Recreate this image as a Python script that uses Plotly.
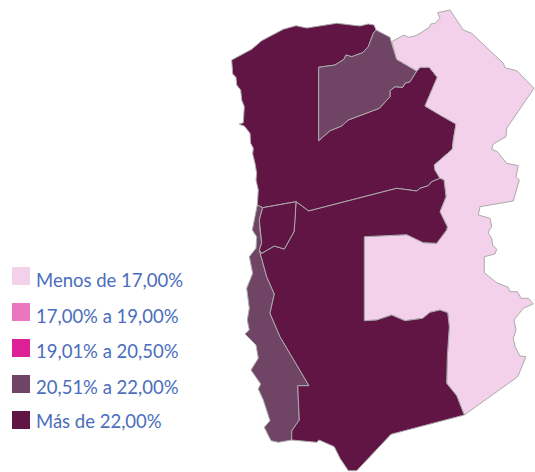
import plotly.graph_objects as go

# Map outlines (x, y in the map's own plane)
north_main = [(231.7,60),(232.7,74),(236,77.3),(236.7,85),(240.7,90),(241.7,100),(244.3,106.7),(243.3,122.7),(239,124.3),(244.3,126),(250,133.3),(250.7,143.3),(253.3,148.3),(252.7,154),(255,163.3),(256.7,173.3),(256,180),(258.3,190),(257.3,205),(262.7,207.7),(296,201.7),(308.7,211),(396.7,188.3),(416.7,191),(420,188.3),(428.3,185.7),(431.7,181.7),(440,178.3),(435,170),(434.3,165),(452.3,149.3),(453.3,140),(456,124),(440,115),(425,106),(437.3,77.3),(429.3,67.3),(420,67.3),(416.7,71),(410,81.7),(405,83.3),(402.7,87.3),(395,86.7),(390,90.7),(390,96.7),(379.3,108.3),(348.3,120),(341.7,126),(330,130.7),(318.7,140.7),(318.7,67.3),(335,65),(344,59.3),(346,55),(351.7,56.7),(362.7,52.7),(368.3,46.7),(373.3,33.3),(376,30),(374,25),(368.3,24),(360,26),(336.7,23.3),(306.7,28),(296,25.7),(283.3,29.3),(261.7,40.7),(251.7,49.3)]
north_inner = [(318.7,67.3),(335,65),(344,59.3),(346,55),(351.7,56.7),(362.7,52.7),(368.3,46.7),(373.3,33.3),(376,30),(390,37.3),(391.7,43.3),(396.7,59.3),(416.7,71),(410,81.7),(405,83.3),(402.7,87.3),(395,86.7),(390,90.7),(390,96.7),(379.3,108.3),(348.3,120),(341.7,126),(330,130.7),(318.7,140.7)]
east_band = [(391.7,41.7),(404,35),(408.3,37.3),(415,36),(420,33.3),(429.3,27.3),(430.7,24),(435,23.3),(440,18.3),(437.7,12.7),(450,10),(463.3,30),(471.7,33.3),(503.3,63.3),(505,67.7),(516.7,70.7),(534,88.3),(521.7,106.7),(506.7,128.3),(506,136.7),(493.3,144),(491.7,149.3),(497.3,151.7),(506.7,163.3),(518.3,165.7),(516,176.7),(519.3,180),(513.3,201),(480,206.7),(478.3,215),(490,218.3),(491.7,226.7),(489.3,230),(488.3,233.3),(491.7,238.3),(492.7,245),(496.7,249.3),(495,254),(484.3,256.7),(484.3,272.7),(496.7,282.7),(508.3,287.3),(510,291.7),(517.3,291.7),(521,298.3),(528.3,298.3),(533.3,304),(523.3,308.3),(516.7,316.7),(514,320),(516,330),(513.3,338.3),(515,346.7),(520,356),(526,356.7),(517.7,376.7),(464.3,415),(460,403.3),(456.7,395.7),(446.7,383.3),(447.3,356.7),(449.3,326.7),(447.7,312.7),(440,310),(430,312.3),(422.7,318.3),(405,320.7),(391.7,315),(376.7,320),(364.3,320.7),(364.3,236.7),(406.7,234.7),(423.3,242.7),(436.7,243.3),(446.7,230),(447.3,226.7),(440,211.7),(446,196.7),(444,180),(440,178.3),(435,170),(434.3,165),(452.3,149.3),(453.3,140),(456,124),(440,115),(425,106),(437.3,77.3),(429.3,67.3),(420,67.3),(416.7,71),(396.7,59.3)]
south_main = [(296,201.7),(308.7,211),(396.7,188.3),(416.7,191),(420,188.3),(428.3,185.7),(431.7,181.7),(440,178.3),(444,180),(446,196.7),(440,211.7),(447.3,226.7),(446.7,230),(436.7,243.3),(423.3,242.7),(406.7,234.7),(364.3,236.7),(364.3,320.7),(376.7,320),(391.7,315),(405,320.7),(422.7,318.3),(430,312.3),(440,310),(447.7,312.7),(449.3,326.7),(447.3,356.7),(446.7,383.3),(456.7,395.7),(460,403.3),(464.3,415),(391,434.3),(356.7,470.7),(348.3,470.7),(340,458.3),(334.3,446.7),(319,440),(316.7,442.3),(291.7,440),(291.7,431),(299.3,420),(297.7,385.7),(309,385.7),(280,336.7),(270,313.3),(274.3,294),(266.7,276.7),(259.3,250),(261.7,253.3),(274.3,246),(284.3,249),(294,231.7),(295,220)]
west_pocket = [(262.7,207.7),(296,201.7),(295,220),(294,231.7),(284.3,249),(274.3,246),(261.7,253.3),(259.3,250),(261.7,243.3),(260,230),(259.3,220)]
coast_strip = [(257.3,205),(262.7,207.7),(259.3,220),(260,230),(261.7,243.3),(259.3,250),(266.7,276.7),(274.3,294),(270,313.3),(280,336.7),(309,385.7),(297.7,385.7),(299.3,420),(291.7,431),(291.7,440),(278.3,442.3),(271,440.7),(264.3,427.3),(270,420.7),(266.7,410),(263.3,400),(258.3,389),(260.7,384),(251,370),(258.3,358.3),(256,345),(245,334),(249.3,330),(247.3,320),(249.3,308.3),(246.7,288.3),(252.7,273.3),(249.3,256.7),(256,248.3),(256.7,236.7),(252.3,230),(254.3,220)]

legend_labels = ["Menos de 17,00%", "17,00% a 19,00%", "19,01% a 20,50%", "20,51% a 22,00%", "Más de 22,00%"]
legend_colors = ["#f3d1ea", "#e976bf", "#de2098", "#6f4465", "#611545"]
legend_x = [21, 21, 21, 21, 21]
legend_y = [276, 312, 348, 384, 420]
label_y = [282, 318, 353, 389, 423]

regions = [
    ("north_main", north_main, 4),
    ("north_inner", north_inner, 3),
    ("east_band", east_band, 0),
    ("coast_strip", coast_strip, 3),
    ("south_main", south_main, 4),
    ("west_pocket", west_pocket, 4),
]

fig = go.Figure()
for name, pts, cls in regions:
    xs = [p[0] for p in pts] + [pts[0][0]]
    ys = [p[1] for p in pts] + [pts[0][1]]
    fig.add_trace(go.Scatter(x=xs, y=ys, mode="lines", fill="toself", name=name,
                             fillcolor=legend_colors[cls],
                             line=dict(color="#ababab", width=1),
                             hoverinfo="skip", showlegend=False))

fig.add_trace(go.Scatter(x=legend_x, y=legend_y, mode="markers",
                         marker=dict(symbol="square", size=18, color=legend_colors, line=dict(width=0)),
                         hoverinfo="skip", showlegend=False))
fig.add_trace(go.Scatter(x=[36] * 5, y=label_y, mode="text", text=legend_labels,
                         textposition="middle right",
                         textfont=dict(family="Lato", size=18.5, color="#4a6dbd"),
                         hoverinfo="skip", showlegend=False))

fig.update_layout(
    width=535, height=472, margin=dict(l=0, r=0, t=0, b=0),
    paper_bgcolor="white", plot_bgcolor="white",
    xaxis=dict(range=[0, 535], visible=False, fixedrange=True),
    yaxis=dict(range=[472, 0], visible=False, fixedrange=True),
)
fig.write_html("out.html", config=dict(displayModeBar=False),
               post_script="document.body.style.margin='0';document.body.style.overflow='hidden';")
